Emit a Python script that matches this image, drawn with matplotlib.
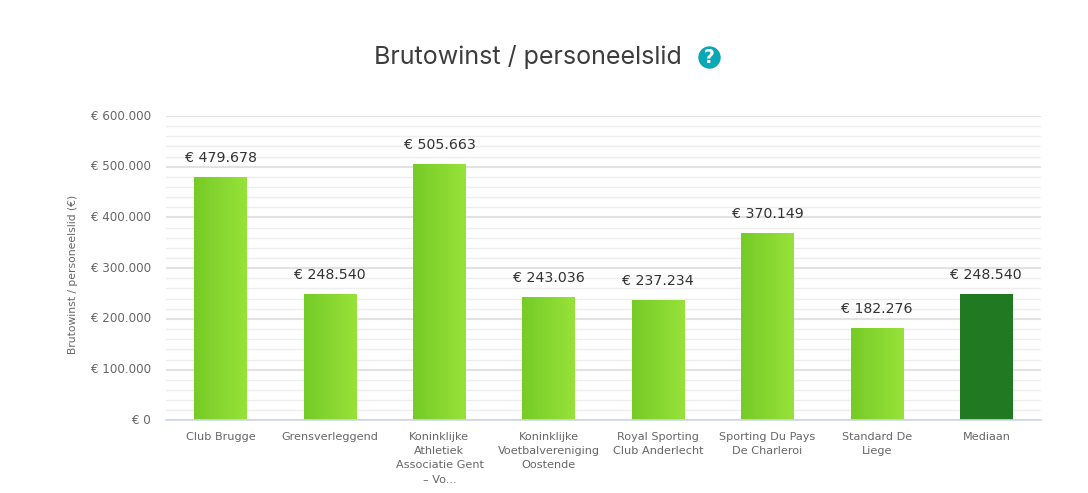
import numpy as np
import matplotlib
matplotlib.use("Agg")
import matplotlib.pyplot as plt
from matplotlib.colors import LinearSegmentedColormap
from matplotlib.patches import Circle
from matplotlib.transforms import Affine2D

categories = ["Club Brugge", "Grensverleggend", "Koninklijke\nAthletiek\nAssociatie Gent\n– Vo...",
              "Koninklijke\nVoetbalvereniging\nOostende", "Royal Sporting\nClub Anderlecht",
              "Sporting Du Pays\nDe Charleroi", "Standard De\nLiege", "Mediaan"]
values = [479678, 248540, 505663, 243036, 237234, 370149, 182276, 248540]
value_labels = ["€ 479.678", "€ 248.540", "€ 505.663", "€ 243.036", "€ 237.234", "€ 370.149", "€ 182.276", "€ 248.540"]
major_ticks = [0, 100000, 200000, 300000, 400000, 500000, 600000]
major_labels = ["€ 0", "€ 100.000", "€ 200.000", "€ 300.000", "€ 400.000", "€ 500.000", "€ 600.000"]

W, H = 1088, 493
plt.rcParams['font.family'] = ['DejaVu Sans']
fig = plt.figure(figsize=(W / 100, H / 100), dpi=100, facecolor='white')
L, R, T, B = 166, 1041, 116, 420.4
ax = fig.add_axes([L / W, 1 - B / H, (R - L) / W, (B - T) / H])
ax.set_xlim(-0.5, 7.5)
ax.set_ylim(0, 600000)
for s in ['top', 'left', 'right']:
    ax.spines[s].set_visible(False)
ax.spines['bottom'].set_color('#ccd6eb')
ax.spines['bottom'].set_linewidth(1.2)
ax.spines['bottom'].set_zorder(5)

ax.set_yticks(major_ticks)
ax.set_yticklabels(major_labels, fontsize=8.6, color='#666666')
ax.set_yticks(np.arange(0, 600001, 20000), minor=True)
ax.tick_params(axis='y', which='both', length=0, pad=10.8)
ax.grid(True, axis='y', which='major', color='#e2e2e2', linewidth=1.5, zorder=0)
ax.grid(True, axis='y', which='minor', color='#eeeeee', linewidth=1.0, zorder=0)
ax.set_axisbelow(True)
for t in ax.get_yticklabels():
    t.set_transform(t.get_transform() + Affine2D().translate(0, 1.5))

ax.set_xticks(range(len(categories)))
ax.set_xticklabels(categories, fontsize=8.15, color='#666666', linespacing=1.54)
ax.tick_params(axis='x', length=0, pad=8.2)
ax.set_ylabel("Brutowinst / personeelslid (€)", fontsize=7.75, color='#666666')
ax.yaxis.set_label_coords((78 - L) / (R - L), (B - 274) / (B - T))

grad = np.linspace(0, 1, 64).reshape(1, -1)
cmap = LinearSegmentedColormap.from_list('g', ['#76cb26', '#97e23a'])
bw = 0.483
for i, (v, lab) in enumerate(zip(values, value_labels)):
    if i == len(values) - 1:
        ax.bar(i, v, width=bw, color='#217a21', zorder=3)
    else:
        bar = ax.bar(i, v, width=bw, color='none', zorder=3)[0]
        im = ax.imshow(grad, extent=[i - bw / 2, i + bw / 2, 0, v], aspect='auto', cmap=cmap, zorder=3)
        im.set_clip_path(bar)
    ax.annotate(lab, (i, v), xytext=(0, 12), textcoords='offset pixels', ha='center', va='bottom',
                fontsize=10.2, color='#333333', zorder=4)
ax.set_xlim(-0.5, 7.5)
ax.set_ylim(0, 600000)

fig.text(528 / W, 1 - 57 / H, "Brutowinst / personeelslid", ha='center', va='center',
         fontsize=18.05, color='#3d3d3d', family=['Inter', 'DejaVu Sans'])
cx, cy = 709.5, 57.5
fig.add_artist(Circle((cx, H - cy), 10.5, transform=None, color='#0aa7b5'))
fig.text(cx / W, 1 - cy / H, "?", ha='center', va='center', fontsize=13.5, color='white', fontweight='bold')

fig.savefig('out.png', dpi=100)
